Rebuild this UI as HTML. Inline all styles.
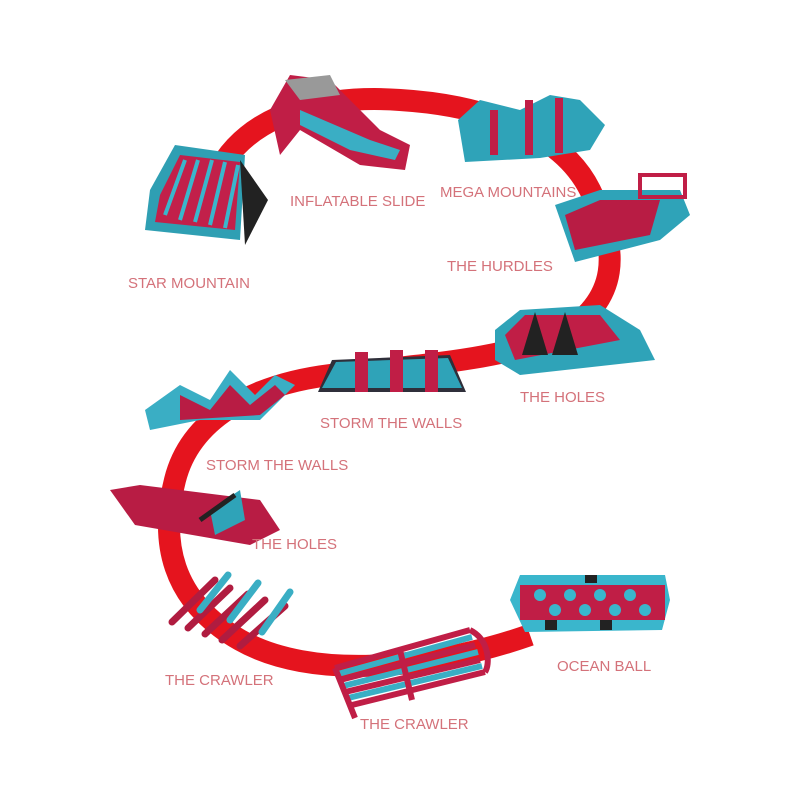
<!DOCTYPE html>
<html><head><style>
html,body{margin:0;padding:0;background:#fff;}
svg{display:block}
text{font-family:"Liberation Sans",sans-serif;font-size:15px;fill:#d4727a;}
</style></head><body>
<svg width="800" height="800" viewBox="0 0 800 800">
<path d="M225,160 C260,110 330,95 400,100 C480,105 560,130 590,190 C620,250 620,300 560,335 C500,360 420,365 330,375 C250,385 190,420 175,480 C160,540 170,600 240,640 C310,680 430,670 530,635" fill="none" stroke="#e5141e" stroke-width="22"/>
<!-- star mountain -->
<g>
<polygon points="150,190 175,145 245,155 240,240 145,230" fill="#2f9fb3"/>
<polygon points="160,195 180,155 240,162 235,230 155,222" fill="#c2204a"/>
<g stroke="#3ab6cc" stroke-width="4">
<line x1="165" y1="215" x2="185" y2="160"/><line x1="180" y1="220" x2="198" y2="160"/><line x1="195" y1="222" x2="212" y2="160"/><line x1="210" y1="225" x2="225" y2="162"/><line x1="225" y1="228" x2="238" y2="165"/></g>
<polygon points="240,160 268,200 245,245" fill="#222"/>
</g>
<!-- inflatable slide -->
<g>
<polygon points="270,110 290,75 330,80 380,130 410,145 405,170 360,165 300,130 280,155" fill="#c01e46"/>
<polygon points="285,80 330,75 340,95 300,100" fill="#999"/>
<polygon points="300,110 370,140 400,150 395,160 350,150 300,125" fill="#3aaec4"/>
</g>
<!-- mega mountains -->
<g>
<polygon points="458,120 480,100 520,110 550,95 580,100 605,125 590,150 540,158 465,162" fill="#2fa3b8"/>
<g fill="#c01e46"><rect x="490" y="110" width="8" height="45"/><rect x="525" y="100" width="8" height="55"/><rect x="555" y="98" width="8" height="55"/></g>
</g>
<!-- hurdles -->
<g>
<polygon points="555,205 600,190 680,190 690,215 660,240 575,262" fill="#2fa3b8"/>
<polygon points="565,215 600,200 660,200 650,235 575,250" fill="#b81c44"/>
<rect x="640" y="175" width="45" height="22" fill="none" stroke="#c01e46" stroke-width="4"/>
</g>
<!-- holes right -->
<g>
<polygon points="495,330 520,310 600,305 640,330 655,360 520,375 495,360" fill="#2fa3b8"/>
<polygon points="505,335 525,315 600,315 620,340 515,360" fill="#c01e46"/>
<polygon points="522,355 535,312 548,355" fill="#222"/><polygon points="552,355 565,312 578,355" fill="#222"/>
</g>
<!-- storm walls middle -->
<g>
<polygon points="318,392 332,360 450,355 466,392" fill="#2f2f3a"/>
<polygon points="322,388 336,362 448,358 462,388" fill="#2fa3b8"/>
<g fill="#c01e46"><rect x="355" y="352" width="13" height="40"/><rect x="390" y="350" width="13" height="42"/><rect x="425" y="350" width="13" height="42"/></g>
</g>
<!-- storm walls left -->
<g>
<polygon points="145,410 180,385 210,400 230,370 255,395 275,375 295,385 260,420 200,420 150,430" fill="#3aaec4"/>
<polygon points="180,395 210,410 230,385 250,405 275,385 285,395 260,415 180,420" fill="#b81c44"/>
</g>
<!-- holes left -->
<g>
<polygon points="110,490 140,485 260,500 280,530 250,545 135,525" fill="#b81c44"/>
<polygon points="210,510 240,490 245,520 215,535" fill="#2fa3b8"/>
<line x1="200" y1="520" x2="235" y2="495" stroke="#222" stroke-width="5"/>
</g>
<!-- crawler left -->
<g stroke-width="7" fill="none" stroke-linecap="round">
<path d="M172,622 L215,580 M188,628 L230,588 M205,634 L248,594 M222,640 L265,600 M240,646 L285,606" stroke="#b01c40"/>
<path d="M200,610 L228,575 M230,620 L258,583 M262,632 L290,592" stroke="#3aaec4"/>
</g>
<!-- crawler bottom -->
<g stroke-width="6" fill="none">
<path d="M335,668 L470,630 M340,680 L475,645 M345,692 L480,660 M352,705 L485,672" stroke="#c01e46"/>
<path d="M338,674 L472,637 M343,686 L478,652 M348,698 L482,666" stroke="#3aaec4"/>
<path d="M335,668 L355,718 M400,650 L412,700 M470,630 C490,640 490,665 485,672" stroke="#c01e46"/>
</g>
<!-- ocean ball -->
<g>
<polygon points="510,600 520,575 665,575 670,600 662,630 525,632" fill="#3ab6cc"/>
<rect x="520" y="585" width="145" height="35" fill="#c01e46"/>
<g fill="#3ab6cc"><circle cx="540" cy="595" r="6"/><circle cx="570" cy="595" r="6"/><circle cx="600" cy="595" r="6"/><circle cx="630" cy="595" r="6"/><circle cx="555" cy="610" r="6"/><circle cx="585" cy="610" r="6"/><circle cx="615" cy="610" r="6"/><circle cx="645" cy="610" r="6"/></g>
<g fill="#222"><rect x="545" y="620" width="12" height="10"/><rect x="600" y="620" width="12" height="10"/><rect x="585" y="575" width="12" height="8"/></g>
</g>
<text x="128" y="288">STAR MOUNTAIN</text>
<text x="290" y="206">INFLATABLE SLIDE</text>
<text x="440" y="197">MEGA MOUNTAINS</text>
<text x="447" y="271">THE HURDLES</text>
<text x="520" y="402">THE HOLES</text>
<text x="320" y="428">STORM THE WALLS</text>
<text x="206" y="470">STORM THE WALLS</text>
<text x="252" y="549">THE HOLES</text>
<text x="165" y="685">THE CRAWLER</text>
<text x="360" y="729">THE CRAWLER</text>
<text x="557" y="671">OCEAN BALL</text>
</svg>
</body></html>
